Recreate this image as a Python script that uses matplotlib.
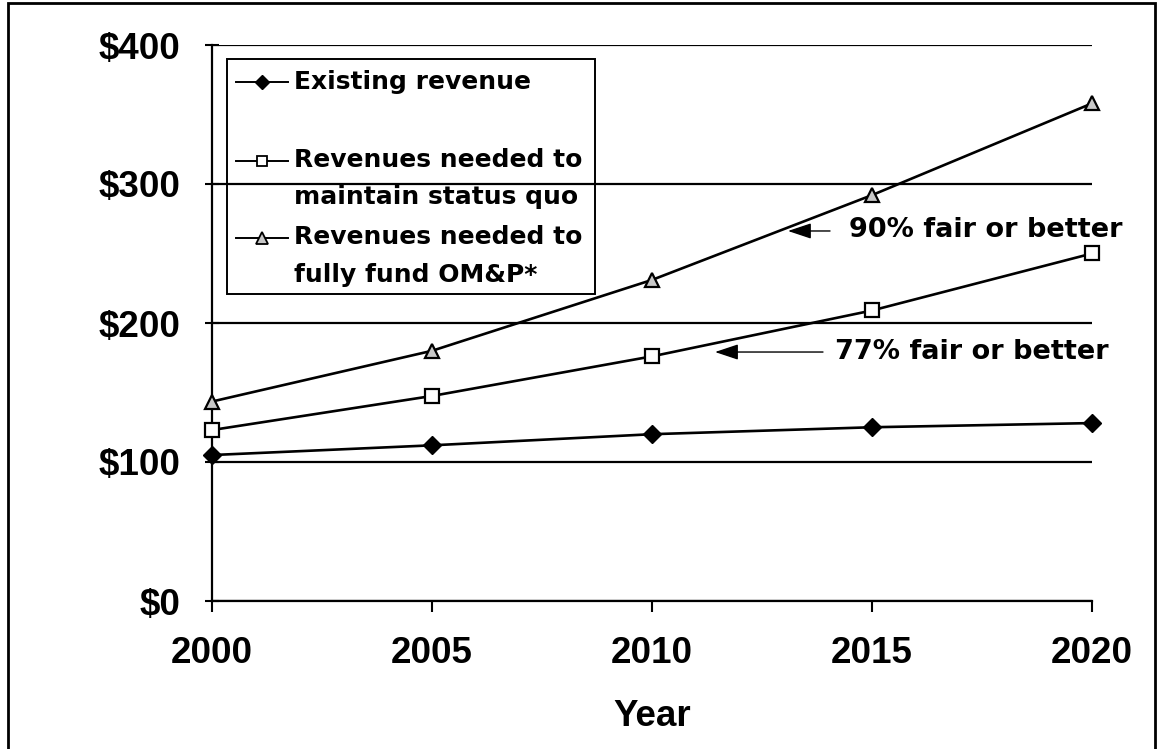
import matplotlib
matplotlib.use("Agg")
import matplotlib.pyplot as plt
from matplotlib.patches import Rectangle
from matplotlib.lines import Line2D

# data
years = [2000, 2005, 2010, 2015, 2020]
existing = [105, 112, 120, 125, 128]
status_quo = [123, 147.5, 176, 209, 250]
full_fund = [143.5, 180, 231, 292, 358]

y_ticks = [0, 100, 200, 300, 400]
y_labels = ["$0", "$100", "$200", "$300", "$400"]
legend_labels = [["Existing revenue"],
                 ["Revenues needed to", "maintain status quo"],
                 ["Revenues needed to", "fully fund OM&P*"]]
notes = ["90% fair or better", "77% fair or better"]

W, H = 1162, 749


def fx(x):
    return x / W


def fy(y):
    return 1 - y / H


fig = plt.figure(figsize=(W / 100, H / 100), dpi=100)
ax = fig.add_axes([fx(212), fy(601), 880 / W, 556 / H])

tick_font = dict(family="Liberation Sans", weight="bold", size=26.5)
note_font = dict(family="DejaVu Sans", weight="bold")

# series
ax.plot(years, existing, color="black", lw=1.9, marker="D", ms=9.5,
        mfc="black", mec="black", zorder=5, clip_on=False)
ax.plot(years, status_quo, color="black", lw=1.9, marker="s", ms=9.5,
        mfc="white", mec="black", mew=1.6, zorder=5, clip_on=False)
ax.plot(years, full_fund, color="black", lw=1.9, marker="^", ms=10.5,
        mfc="#c8c8c8", mec="black", mew=1.6, zorder=5, clip_on=False)

# axes
ax.set_xlim(2000, 2020)
ax.set_ylim(0, 400)
ax.set_xticks(years)
ax.set_yticks(y_ticks)
ax.set_yticklabels(y_labels)
for lab in ax.get_xticklabels() + ax.get_yticklabels():
    lab.set_fontproperties(matplotlib.font_manager.FontProperties(**tick_font))
ax.tick_params(axis="y", direction="inout", length=10, width=1.5, pad=18)
ax.tick_params(axis="x", direction="out", length=8, width=1.5, pad=17)
ax.yaxis.grid(True, color="black", lw=1.6)
ax.set_axisbelow(True)
for s in ["top", "right"]:
    ax.spines[s].set_visible(False)
for s in ["left", "bottom"]:
    ax.spines[s].set_linewidth(1.6)

ax.set_xlabel("Year", **tick_font)
ax.xaxis.set_label_coords(0.5, -0.207)
ax.xaxis.label.set_va("center")

# legend drawn by hand, Excel style
fig.patches.append(Rectangle((fx(227), fy(294)), (595 - 227) / W, (294 - 59) / H,
                             transform=fig.transFigure, fill=False,
                             ec="black", lw=1.4, zorder=6))
handle_y = [82, 161, 238]
text_y = [[82], [160, 197], [237, 275]]
styles = [dict(marker="D", ms=7, mfc="black"),
          dict(marker="s", ms=7.5, mfc="white", mew=1.3),
          dict(marker="^", ms=8, mfc="#c8c8c8", mew=1.3)]
for hy, ty, lines, st in zip(handle_y, text_y, legend_labels, styles):
    fig.add_artist(Line2D([fx(236), fx(288)], [fy(hy), fy(hy)],
                          transform=fig.transFigure, color="black", lw=1.4))
    fig.add_artist(Line2D([fx(262)], [fy(hy)], transform=fig.transFigure,
                          color="black", mec="black", **st))
    for t, yy in zip(lines, ty):
        fig.text(fx(294), fy(yy), t, ha="left", va="center", size=18, **note_font)

# annotations with arrows
arrow = dict(arrowstyle="-|>,head_length=0.9,head_width=0.3", color="black",
             lw=1, shrinkA=0, shrinkB=0, mutation_scale=16)
ax.annotate("", xy=(0.6545, 0.6655), xytext=(0.7023, 0.6655),
            xycoords="axes fraction", arrowprops=arrow)
ax.text(0.7239, 0.667, notes[0], transform=ax.transAxes, ha="left",
        va="center", size=19.5, **note_font)
ax.annotate("", xy=(0.5716, 0.4478), xytext=(0.6943, 0.4478),
            xycoords="axes fraction", arrowprops=arrow)
ax.text(0.708, 0.4478, notes[1], transform=ax.transAxes, ha="left",
        va="center", size=19.5, **note_font)

# outer frame
fig.patches.append(Rectangle((fx(8), -0.01), (1155 - 8) / W, fy(3) + 0.01,
                             transform=fig.transFigure, fill=False,
                             ec="black", lw=2))

fig.savefig("out.png", dpi=100)
